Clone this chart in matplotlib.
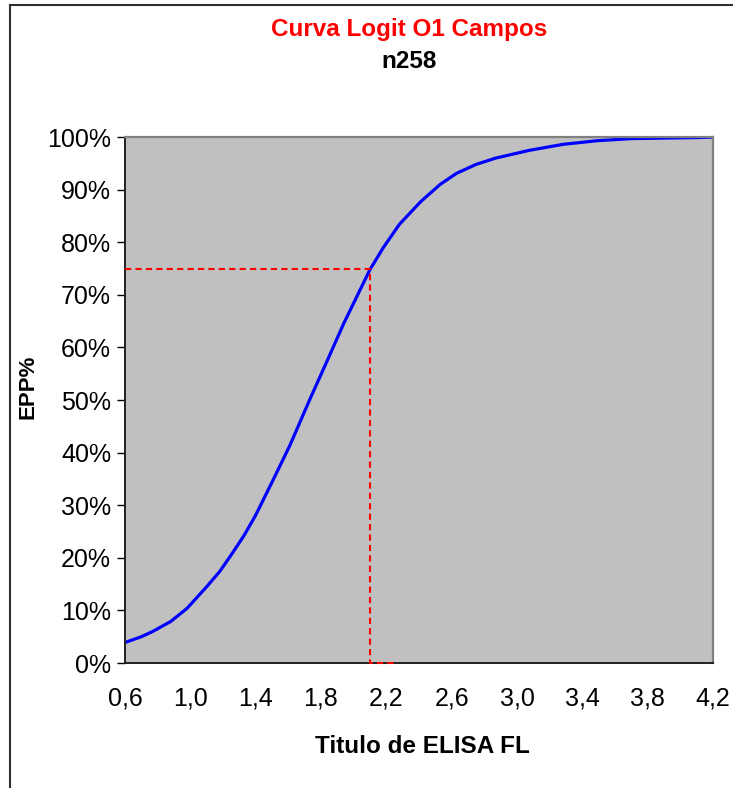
import matplotlib
matplotlib.use("Agg")
import matplotlib.pyplot as plt
from matplotlib.lines import Line2D
from matplotlib.ticker import FuncFormatter

plt.rcParams['font.family'] = ['Liberation Sans', 'DejaVu Sans']

# logit curve (titulo vs EPP fraction)
titulo = [0.60, 0.70, 0.77, 0.88, 0.98, 1.10, 1.18, 1.26, 1.33, 1.40, 1.51,
          1.61, 1.73, 1.84, 1.94, 2.02, 2.10, 2.18, 2.28, 2.41, 2.53, 2.63,
          2.75, 2.87, 3.08, 3.28, 3.49, 3.70, 3.90, 4.11, 4.20]
epp = [0.039, 0.050, 0.060, 0.079, 0.104, 0.145, 0.174, 0.210, 0.243, 0.281,
       0.350, 0.414, 0.500, 0.576, 0.646, 0.697, 0.748, 0.789, 0.834, 0.877,
       0.910, 0.931, 0.948, 0.960, 0.975, 0.986, 0.993, 0.997, 0.998, 0.999,
       1.000]

# red guide line at 75 %
guia_x = [0.6, 2.1, 2.1, 2.26]
guia_y = [0.75, 0.75, 0.0, 0.0]

xticks = [0.6, 1.0, 1.4, 1.8, 2.2, 2.6, 3.0, 3.4, 3.8, 4.2]
yticks = [0, 0.1, 0.2, 0.3, 0.4, 0.5, 0.6, 0.7, 0.8, 0.9, 1.0]

fig = plt.figure(figsize=(7.33, 7.88), dpi=100)
ax = fig.add_axes([0.1705, 0.1586, 0.8022, 0.6675])
ax.set_facecolor('#C0C0C0')

ax.plot(titulo, epp, color='#0000FF', lw=2.3, solid_capstyle='round',
        solid_joinstyle='round')
ax.plot(guia_x, guia_y, color='#FF0000', lw=1.5, linestyle=(0, (3, 2)),
        zorder=3, clip_on=False)

ax.set_xlim(0.6, 4.2)
ax.set_ylim(0, 1)
ax.set_xticks(xticks)
ax.set_yticks(yticks)
ax.xaxis.set_major_formatter(FuncFormatter(lambda v, p: f'{v:.1f}'.replace('.', ',')))
ax.yaxis.set_major_formatter(FuncFormatter(lambda v, p: f'{v*100:.0f}%'))
ax.tick_params(axis='x', length=0, pad=17, labelsize=18)
ax.tick_params(axis='y', length=6, width=1, pad=4, labelsize=18, color='black')

for s in ['top', 'right']:
    ax.spines[s].set_color('#808080')
    ax.spines[s].set_linewidth(1.6)
for s in ['left', 'bottom']:
    ax.spines[s].set_color('#202020')
    ax.spines[s].set_linewidth(1.4)

fig.text(0.5587, 0.962, 'Curva Logit O1 Campos', color='#FF0000', fontsize=17.5,
         fontweight='bold', ha='center', va='center')
fig.text(0.5587, 0.922, 'n258', color='black', fontsize=17.5,
         fontweight='bold', ha='center', va='center')
fig.text(0.576, 0.053, 'Titulo de ELISA FL', color='black', fontsize=17.5,
         fontweight='bold', ha='center', va='center')
fig.text(0.038, 0.509, 'EPP%', color='black', fontsize=16,
         fontweight='bold', ha='center', va='center', rotation=90)

# chart frame (only top and left edges show in the picture)
fig.add_artist(Line2D([0.013, 1.0], [0.9937, 0.9937], color='#303030', lw=1.5))
fig.add_artist(Line2D([0.013, 0.013], [0.0, 0.9937], color='#303030', lw=1.5))

fig.savefig('out.png', dpi=100)
